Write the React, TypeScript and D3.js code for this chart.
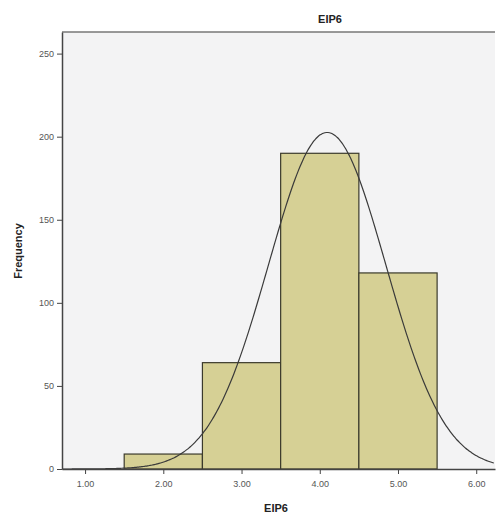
import React, { useEffect, useRef } from "react";
import * as d3 from "d3";

const binStarts = [1.5, 2.5, 3.5, 4.5];
const binEnds = [2.5, 3.5, 4.5, 5.5];
const binCounts = [9, 64, 190, 118];
const binMids = [2, 3, 4, 5];
const xTicks = [1, 2, 3, 4, 5, 6];
const yTicks = [0, 50, 100, 150, 200, 250];

export default function App() {
  const ref = useRef<SVGSVGElement>(null);

  useEffect(() => {
    const svg = d3.select(ref.current);
    svg.selectAll("*").remove();

    const margin = { top: 32, right: 1, bottom: 49, left: 62 };
    const width = 496 - margin.left - margin.right;
    const height = 518 - margin.top - margin.bottom;

    const x = d3.scaleLinear().domain([0.705, 6.24]).range([0, width]);
    const y = d3.scaleLinear().domain([0, 263]).range([height, 0]);

    const g = svg.append("g").attr("transform", `translate(${margin.left},${margin.top})`);

    g.append("rect")
      .attr("width", width)
      .attr("height", height)
      .attr("fill", "#f3f3f4");

    // bars
    g.selectAll(".bar")
      .data(binCounts)
      .enter()
      .append("rect")
      .attr("x", (d, i) => x(binStarts[i]))
      .attr("y", d => y(d))
      .attr("width", (d, i) => x(binEnds[i]) - x(binStarts[i]))
      .attr("height", d => y(0) - y(d))
      .attr("fill", "#d6d095")
      .attr("stroke", "#3b3a2c")
      .attr("stroke-width", 1.2);

    // normal curve from the bins
    const n = d3.sum(binCounts);
    const mean = d3.sum(binCounts, (c, i) => c * binMids[i]) / n;
    const sd = Math.sqrt(d3.sum(binCounts, (c, i) => c * (binMids[i] - mean) ** 2) / n);
    const xs = d3.range(0.705, 6.24, 0.02);
    const curve = d3
      .line<number>()
      .x(v => x(v))
      .y(v => y((n / (sd * Math.sqrt(2 * Math.PI))) * Math.exp(-0.5 * ((v - mean) / sd) ** 2)))
      .curve(d3.curveMonotoneX);
    g.append("path")
      .datum(xs)
      .attr("fill", "none")
      .attr("stroke", "#3a3a3a")
      .attr("stroke-width", 1.2)
      .attr("d", curve);

    // frame top
    g.append("line").attr("x1", 0).attr("x2", width).attr("y1", 0).attr("y2", 0)
      .attr("stroke", "#777").attr("stroke-width", 1.5);

    const xAxis = g.append("g")
      .attr("transform", `translate(0,${height})`)
      .call(d3.axisBottom(x).tickValues(xTicks).tickFormat(d3.format(".2f")).tickSize(5).tickSizeOuter(0));
    const yAxis = g.append("g")
      .call(d3.axisLeft(y).tickValues(yTicks).tickSize(5).tickSizeOuter(0));

    [xAxis, yAxis].forEach(a => {
      a.select(".domain").attr("stroke", "#444").attr("stroke-width", 1.5);
      a.selectAll(".tick line").attr("stroke", "#444");
      a.selectAll("text")
        .attr("fill", "#555")
        .style("font-family", "Arial, 'Liberation Sans', sans-serif")
        .style("font-size", "9px");
    });
    xAxis.selectAll("text").attr("dy", "1.1em");

    svg.append("text")
      .attr("x", 330)
      .attr("y", 23)
      .attr("text-anchor", "middle")
      .style("font-family", "Arial, 'Liberation Sans', sans-serif")
      .style("font-size", "11px")
      .style("font-weight", "bold")
      .attr("fill", "#222")
      .text("EIP6");

    svg.append("text")
      .attr("x", 276)
      .attr("y", 512)
      .attr("text-anchor", "middle")
      .style("font-family", "Arial, 'Liberation Sans', sans-serif")
      .style("font-size", "11px")
      .style("font-weight", "bold")
      .attr("fill", "#222")
      .text("EIP6");

    svg.append("text")
      .attr("transform", "translate(22,251) rotate(-90)")
      .attr("text-anchor", "middle")
      .style("font-family", "Arial, 'Liberation Sans', sans-serif")
      .style("font-size", "11px")
      .style("font-weight", "bold")
      .attr("fill", "#222")
      .text("Frequency");
  }, []);

  return (
    <svg
      ref={ref}
      width={496}
      height={518}
      style={{ position: "absolute", left: 0, top: 0, background: "#fff" }}
    />
  );
}
